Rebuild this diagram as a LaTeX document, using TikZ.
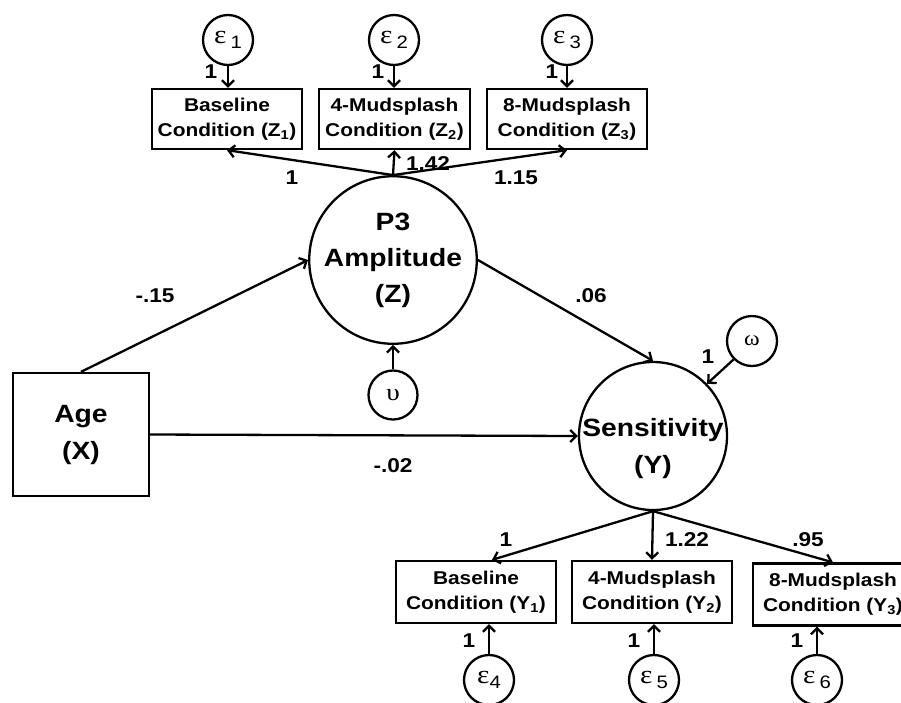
\documentclass[tikz,border=0pt]{standalone}
\usepackage{fontspec}
\setmainfont{Liberation Sans}[FakeStretch=1.13]
\newfontfamily\grk{Liberation Serif}[FakeStretch=1.13]
\usetikzlibrary{arrows.meta}
% subscript digit of an error term
\newcommand\errsub[1]{\raisebox{-5pt}{\normalfont\fontsize{18}{18}\selectfont #1}}
\begin{document}
\begin{tikzpicture}[x=1pt,y=-1pt, line width=2.3pt,
  lat/.style={circle, draw, minimum size=146pt, inner sep=0pt, align=center,
    font=\bfseries\fontsize{25}{36}\selectfont},
  err/.style={circle, draw, minimum size=50pt, inner sep=0pt,
    font=\grk\fontsize{26}{26}\selectfont},
  ind/.style={rectangle, draw, minimum width=150pt, minimum height=60pt, inner sep=0pt,
    align=center, font=\bfseries\fontsize{18.5}{25}\selectfont},
  coef/.style={font=\bfseries\fontsize{20}{20}\selectfont, inner sep=0pt},
  path/.style={-{Straight Barb[length=6pt,width=12pt]}},
]
\useasboundingbox[fill=white] (0,0) rectangle (901,702);

% measurement model of the mediator
\node[err] (e1) at (228,40) {ε\hspace{4pt}\errsub{1}};
\node[err] (e2) at (394,40) {ε\hspace{4pt}\errsub{2}};
\node[err] (e3) at (567,40) {ε\hspace{4pt}\errsub{3}};
\node[ind, minimum width=150pt] (z1) at (227,119) {Baseline\\Condition (Z\textsubscript{1})};
\node[ind, minimum width=151pt] (z2) at (394.5,119) {4-Mudsplash\\Condition (Z\textsubscript{2})};
\node[ind, minimum width=160pt] (z3) at (567,119) {8-Mudsplash\\Condition (Z\textsubscript{3})};

% structural part
\node[lat] (p3) at (393,260) {P3\\Amplitude\\(Z)};
\node[err, minimum size=49pt, font=\grk\fontsize{24}{24}\selectfont] (u) at (393,395) {υ};
\node[rectangle, draw, minimum width=136pt, minimum height=123pt, align=center,
  font=\bfseries\fontsize{25}{37}\selectfont] (age) at (81,434.5) {Age\\(X)};
\node[lat, minimum size=148pt] (sens) at (653,436) {};
\node[align=center, font=\bfseries\fontsize{25}{37}\selectfont] (senstext) at (653,449) {Sensitivity\\(Y)};
\node[err, font=\grk\fontsize{21}{21}\selectfont] (om) at (752,341) {ω};

% measurement model of the outcome
\node[ind, minimum width=160pt, minimum height=62pt] (y1) at (476,592) {Baseline\\Condition (Y\textsubscript{1})};
\node[ind, minimum width=160pt, minimum height=62pt] (y2) at (652,592) {4-Mudsplash\\Condition (Y\textsubscript{2})};
\node[ind, minimum width=160pt, minimum height=62pt] (y3) at (833,594.5) {8-Mudsplash\\Condition (Y\textsubscript{3})};
\node[err] (e4) at (489,680) {ε{\bfseries\errsub{4}}};
\node[err] (e5) at (654,680) {ε\hspace{4pt}\errsub{5}};
\node[err] (e6) at (817,680) {ε\hspace{4pt}\errsub{6}};

% paths
\draw[path] (e1.south) -- (e1.south |- z1.north);
\draw[path] (e2.south) -- (e2.south |- z2.north);
\draw[path] (e3.south) -- (e3.south |- z3.north);
\draw[path] (p3.north) -- (z1.south);
\draw[path] (p3.north) -- (z2.south);
\draw[path] (p3.north) -- (z3.south);
\draw[path] (age.north) -- (p3.west);
\draw[path] (p3.east) -- (sens.north);
\draw[path] (age.east) -- (sens.west);
\draw[path] (u.north) -- (p3.south);
\draw[path] (om.south west) -- (sens.44);
\draw[path] (sens.south) -- ([xshift=16pt]y1.north);
\draw[path] (sens.south) -- (y2.north);
\draw[path] (sens.south) -- (y3.north);
\draw[path] (e4.north) -- (e4.north |- y1.south);
\draw[path] (e5.north) -- (e5.north |- y2.south);
\draw[path] (e6.north) -- (e6.north |- y3.south);

% coefficients
\node[coef] (l1) at (211,72) {1};
\node[coef] (l2) at (378,72) {1};
\node[coef] (l3) at (552,72) {1};
\node[coef] (lz1) at (292,178) {1};
\node[coef] (lz2) at (428,164) {1.42};
\node[coef] (lz3) at (516,178) {1.15};
\node[coef] (la) at (155,296) {-.15};
\node[coef] (lb) at (591,296) {.06};
\node[coef] (lc) at (393,466) {-.02};
\node[coef] (lom) at (708,357) {1};
\node[coef] (ly1) at (506,540) {1};
\node[coef] (ly2) at (687,540) {1.22};
\node[coef] (ly3) at (808,540) {.95};
\node[coef] (l4) at (469,641) {1};
\node[coef] (l5) at (634,641) {1};
\node[coef] (l6) at (797,641) {1};
\end{tikzpicture}
\end{document}
